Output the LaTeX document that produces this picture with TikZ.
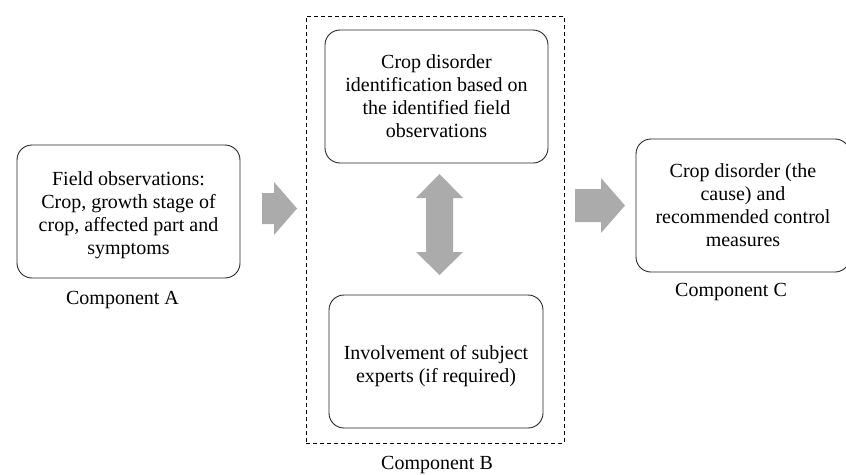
\documentclass[tikz,border=0pt]{standalone}
\usepackage{fontspec}
\setmainfont{Liberation Serif}
\usepackage{tikz}

\tikzset{
  box/.style={draw=black!85,line width=0.9pt,rounded corners=15pt,align=center,inner sep=4pt,minimum height=133pt},
  blockfill/.style={fill=black!33},
}

\begin{document}
\begin{tikzpicture}[x=1pt,y=-1pt,font=\fontsize{20}{23}\selectfont]
  \clip (0,0) rectangle (846,474);
  \node (B) at (435,229.5) [draw,dash pattern=on 4pt off 3pt,line width=0.7pt,minimum width=258pt,minimum height=427pt] {};
  \node (A) at (128.5,211.5) [box,minimum width=223pt] {\rule{0pt}{22pt}Field observations:\\Crop, growth stage of\\crop, affected part and\\symptoms};
  \node (B1) at (436.5,96.5) [box,minimum width=223pt] {Crop disorder\\identification based on\\the identified field\\observations};
  \node (B2) at (436,361.5) [box,minimum width=214pt] {\rule{0pt}{24pt}Involvement of subject\\experts (if required)};
  \node (C) at (743,205.5) [box,minimum width=214pt] {Crop disorder (the\\cause) and\\recommended control\\measures};
  \node (cA) at (122.5,300) {Component A};
  \node (cB) at (437,465) {Component B};
  \node (cC) at (731,292) {Component C};
  \fill[blockfill] (262,193) -- (274,193) -- (274,182) -- (297,208.5) -- (274,235) -- (274,224) -- (262,224) -- cycle;
  \fill[blockfill] (575,189) -- (601,189) -- (601,178) -- (625,205.5) -- (601,233) -- (601,222) -- (575,222) -- cycle;
  \fill[blockfill] (426,198) -- (416,198) -- (439.5,174) -- (463,198) -- (453,198) -- (453,252) -- (463,252) -- (439.5,275) -- (416,252) -- (426,252) -- cycle;
\end{tikzpicture}
\end{document}
